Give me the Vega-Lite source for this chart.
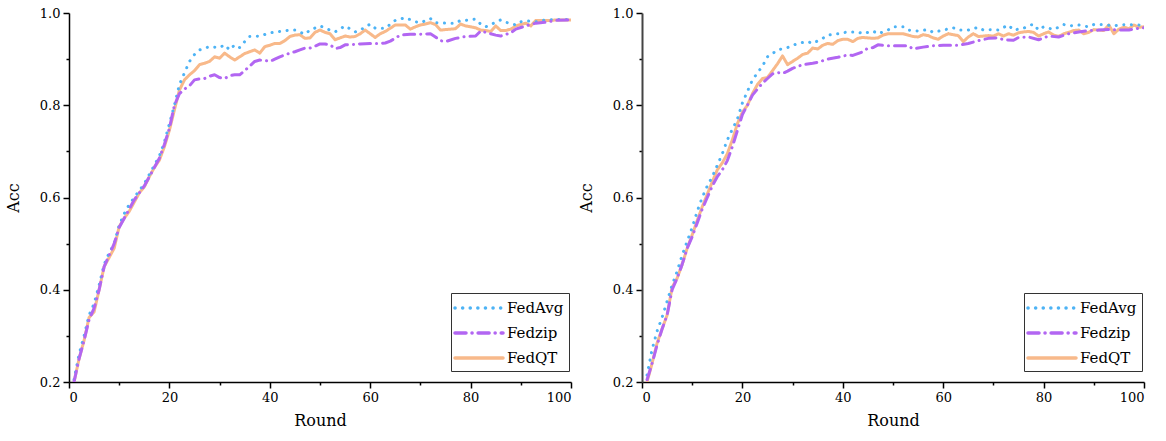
{
  "$schema": "https://vega.github.io/schema/vega-lite/v6.json",
  "background": "white",
  "padding": {"left": 5, "top": 7, "right": 5, "bottom": 5},
  "bounds": "flush",
  "spacing": 71,
  "datasets": {
    "L": [
      {"m":"FedQT","r":1,"a":0.2},{"m":"FedQT","r":2,"a":0.25},{"m":"FedQT","r":3,"a":0.29},{"m":"FedQT","r":4,"a":0.34},{"m":"FedQT","r":5,"a":0.352},{"m":"FedQT","r":6,"a":0.4},{"m":"FedQT","r":7,"a":0.45},{"m":"FedQT","r":8,"a":0.47},{"m":"FedQT","r":9,"a":0.49},{"m":"FedQT","r":10,"a":0.537},
      {"m":"FedQT","r":11,"a":0.555},{"m":"FedQT","r":12,"a":0.57},{"m":"FedQT","r":13,"a":0.59},{"m":"FedQT","r":14,"a":0.61},{"m":"FedQT","r":15,"a":0.623},{"m":"FedQT","r":16,"a":0.645},{"m":"FedQT","r":17,"a":0.665},{"m":"FedQT","r":18,"a":0.681},{"m":"FedQT","r":19,"a":0.71},{"m":"FedQT","r":20,"a":0.746},
      {"m":"FedQT","r":21,"a":0.79},{"m":"FedQT","r":22,"a":0.833},{"m":"FedQT","r":23,"a":0.855},{"m":"FedQT","r":24,"a":0.866},{"m":"FedQT","r":25,"a":0.875},{"m":"FedQT","r":26,"a":0.888},{"m":"FedQT","r":27,"a":0.891},{"m":"FedQT","r":28,"a":0.895},{"m":"FedQT","r":29,"a":0.905},{"m":"FedQT","r":30,"a":0.902},
      {"m":"FedQT","r":31,"a":0.913},{"m":"FedQT","r":32,"a":0.905},{"m":"FedQT","r":33,"a":0.898},{"m":"FedQT","r":34,"a":0.905},{"m":"FedQT","r":35,"a":0.912},{"m":"FedQT","r":36,"a":0.916},{"m":"FedQT","r":37,"a":0.92},{"m":"FedQT","r":38,"a":0.913},{"m":"FedQT","r":39,"a":0.927},{"m":"FedQT","r":40,"a":0.93},
      {"m":"FedQT","r":41,"a":0.934},{"m":"FedQT","r":42,"a":0.934},{"m":"FedQT","r":43,"a":0.94},{"m":"FedQT","r":44,"a":0.949},{"m":"FedQT","r":45,"a":0.952},{"m":"FedQT","r":46,"a":0.953},{"m":"FedQT","r":47,"a":0.945},{"m":"FedQT","r":48,"a":0.946},{"m":"FedQT","r":49,"a":0.958},{"m":"FedQT","r":50,"a":0.963},
      {"m":"FedQT","r":51,"a":0.958},{"m":"FedQT","r":52,"a":0.955},{"m":"FedQT","r":53,"a":0.942},{"m":"FedQT","r":54,"a":0.946},{"m":"FedQT","r":55,"a":0.95},{"m":"FedQT","r":56,"a":0.948},{"m":"FedQT","r":57,"a":0.949},{"m":"FedQT","r":58,"a":0.955},{"m":"FedQT","r":59,"a":0.963},{"m":"FedQT","r":60,"a":0.955},
      {"m":"FedQT","r":61,"a":0.947},{"m":"FedQT","r":62,"a":0.955},{"m":"FedQT","r":63,"a":0.96},{"m":"FedQT","r":64,"a":0.967},{"m":"FedQT","r":65,"a":0.974},{"m":"FedQT","r":66,"a":0.974},{"m":"FedQT","r":67,"a":0.974},{"m":"FedQT","r":68,"a":0.965},{"m":"FedQT","r":69,"a":0.97},{"m":"FedQT","r":70,"a":0.974},
      {"m":"FedQT","r":71,"a":0.976},{"m":"FedQT","r":72,"a":0.979},{"m":"FedQT","r":73,"a":0.975},{"m":"FedQT","r":74,"a":0.963},{"m":"FedQT","r":75,"a":0.964},{"m":"FedQT","r":76,"a":0.965},{"m":"FedQT","r":77,"a":0.966},{"m":"FedQT","r":78,"a":0.976},{"m":"FedQT","r":79,"a":0.972},{"m":"FedQT","r":80,"a":0.97},
      {"m":"FedQT","r":81,"a":0.968},{"m":"FedQT","r":82,"a":0.963},{"m":"FedQT","r":83,"a":0.962},{"m":"FedQT","r":84,"a":0.96},{"m":"FedQT","r":85,"a":0.972},{"m":"FedQT","r":86,"a":0.962},{"m":"FedQT","r":87,"a":0.962},{"m":"FedQT","r":88,"a":0.965},{"m":"FedQT","r":89,"a":0.972},{"m":"FedQT","r":90,"a":0.975},
      {"m":"FedQT","r":91,"a":0.978},{"m":"FedQT","r":92,"a":0.972},{"m":"FedQT","r":93,"a":0.984},{"m":"FedQT","r":94,"a":0.984},{"m":"FedQT","r":95,"a":0.984},{"m":"FedQT","r":96,"a":0.984},{"m":"FedQT","r":97,"a":0.985},{"m":"FedQT","r":98,"a":0.985},{"m":"FedQT","r":99,"a":0.985},{"m":"FedQT","r":100,"a":0.985},

      {"m":"FedAvg","r":1,"a":0.205},{"m":"FedAvg","r":2,"a":0.26},{"m":"FedAvg","r":3,"a":0.3},{"m":"FedAvg","r":4,"a":0.345},{"m":"FedAvg","r":5,"a":0.37},{"m":"FedAvg","r":6,"a":0.41},{"m":"FedAvg","r":7,"a":0.455},{"m":"FedAvg","r":8,"a":0.48},{"m":"FedAvg","r":9,"a":0.5},{"m":"FedAvg","r":10,"a":0.54},
      {"m":"FedAvg","r":11,"a":0.565},{"m":"FedAvg","r":12,"a":0.585},{"m":"FedAvg","r":13,"a":0.6},{"m":"FedAvg","r":14,"a":0.615},{"m":"FedAvg","r":15,"a":0.63},{"m":"FedAvg","r":16,"a":0.65},{"m":"FedAvg","r":17,"a":0.67},{"m":"FedAvg","r":18,"a":0.69},{"m":"FedAvg","r":19,"a":0.72},{"m":"FedAvg","r":20,"a":0.76},
      {"m":"FedAvg","r":21,"a":0.8},{"m":"FedAvg","r":22,"a":0.845},{"m":"FedAvg","r":23,"a":0.87},{"m":"FedAvg","r":24,"a":0.895},{"m":"FedAvg","r":25,"a":0.91},{"m":"FedAvg","r":26,"a":0.92},{"m":"FedAvg","r":28,"a":0.927},{"m":"FedAvg","r":30,"a":0.925},{"m":"FedAvg","r":31,"a":0.931},{"m":"FedAvg","r":32,"a":0.92},
      {"m":"FedAvg","r":33,"a":0.931},{"m":"FedAvg","r":34,"a":0.925},{"m":"FedAvg","r":35,"a":0.938},{"m":"FedAvg","r":36,"a":0.949},{"m":"FedAvg","r":38,"a":0.95},{"m":"FedAvg","r":40,"a":0.957},{"m":"FedAvg","r":42,"a":0.96},{"m":"FedAvg","r":44,"a":0.963},{"m":"FedAvg","r":45,"a":0.963},{"m":"FedAvg","r":47,"a":0.954},
      {"m":"FedAvg","r":48,"a":0.963},{"m":"FedAvg","r":50,"a":0.972},{"m":"FedAvg","r":52,"a":0.963},{"m":"FedAvg","r":53,"a":0.959},{"m":"FedAvg","r":55,"a":0.972},{"m":"FedAvg","r":57,"a":0.959},{"m":"FedAvg","r":58,"a":0.963},{"m":"FedAvg","r":60,"a":0.976},{"m":"FedAvg","r":61,"a":0.967},{"m":"FedAvg","r":63,"a":0.967},
      {"m":"FedAvg","r":65,"a":0.984},{"m":"FedAvg","r":67,"a":0.99},{"m":"FedAvg","r":69,"a":0.981},{"m":"FedAvg","r":70,"a":0.979},{"m":"FedAvg","r":72,"a":0.988},{"m":"FedAvg","r":73,"a":0.979},{"m":"FedAvg","r":75,"a":0.978},{"m":"FedAvg","r":77,"a":0.978},{"m":"FedAvg","r":78,"a":0.984},{"m":"FedAvg","r":79,"a":0.984},
      {"m":"FedAvg","r":81,"a":0.987},{"m":"FedAvg","r":82,"a":0.976},{"m":"FedAvg","r":83,"a":0.97},{"m":"FedAvg","r":85,"a":0.98},{"m":"FedAvg","r":86,"a":0.985},{"m":"FedAvg","r":87,"a":0.98},{"m":"FedAvg","r":89,"a":0.974},{"m":"FedAvg","r":90,"a":0.981},{"m":"FedAvg","r":91,"a":0.983},{"m":"FedAvg","r":93,"a":0.981},
      {"m":"FedAvg","r":95,"a":0.985},{"m":"FedAvg","r":97,"a":0.986},{"m":"FedAvg","r":100,"a":0.986},

      {"m":"Fedzip","r":1,"a":0.2},{"m":"Fedzip","r":2,"a":0.25},{"m":"Fedzip","r":3,"a":0.29},{"m":"Fedzip","r":4,"a":0.335},{"m":"Fedzip","r":5,"a":0.36},{"m":"Fedzip","r":6,"a":0.4},{"m":"Fedzip","r":7,"a":0.45},{"m":"Fedzip","r":8,"a":0.475},{"m":"Fedzip","r":9,"a":0.5},{"m":"Fedzip","r":10,"a":0.535},
      {"m":"Fedzip","r":11,"a":0.555},{"m":"Fedzip","r":12,"a":0.575},{"m":"Fedzip","r":13,"a":0.595},{"m":"Fedzip","r":14,"a":0.61},{"m":"Fedzip","r":15,"a":0.625},{"m":"Fedzip","r":16,"a":0.645},{"m":"Fedzip","r":17,"a":0.665},{"m":"Fedzip","r":18,"a":0.685},{"m":"Fedzip","r":19,"a":0.715},{"m":"Fedzip","r":20,"a":0.75},
      {"m":"Fedzip","r":21,"a":0.8},{"m":"Fedzip","r":22,"a":0.825},{"m":"Fedzip","r":23,"a":0.835},{"m":"Fedzip","r":24,"a":0.842},{"m":"Fedzip","r":25,"a":0.855},{"m":"Fedzip","r":26,"a":0.857},{"m":"Fedzip","r":27,"a":0.858},{"m":"Fedzip","r":28,"a":0.863},{"m":"Fedzip","r":29,"a":0.866},{"m":"Fedzip","r":30,"a":0.86},
      {"m":"Fedzip","r":31,"a":0.858},{"m":"Fedzip","r":32,"a":0.864},{"m":"Fedzip","r":33,"a":0.866},{"m":"Fedzip","r":34,"a":0.866},{"m":"Fedzip","r":35,"a":0.875},{"m":"Fedzip","r":36,"a":0.885},{"m":"Fedzip","r":37,"a":0.895},{"m":"Fedzip","r":38,"a":0.898},{"m":"Fedzip","r":39,"a":0.897},{"m":"Fedzip","r":40,"a":0.895},
      {"m":"Fedzip","r":41,"a":0.9},{"m":"Fedzip","r":42,"a":0.905},{"m":"Fedzip","r":43,"a":0.909},{"m":"Fedzip","r":44,"a":0.913},{"m":"Fedzip","r":45,"a":0.916},{"m":"Fedzip","r":46,"a":0.92},{"m":"Fedzip","r":47,"a":0.924},{"m":"Fedzip","r":48,"a":0.924},{"m":"Fedzip","r":49,"a":0.928},{"m":"Fedzip","r":50,"a":0.933},
      {"m":"Fedzip","r":51,"a":0.933},{"m":"Fedzip","r":52,"a":0.931},{"m":"Fedzip","r":53,"a":0.923},{"m":"Fedzip","r":54,"a":0.925},{"m":"Fedzip","r":55,"a":0.931},{"m":"Fedzip","r":57,"a":0.932},{"m":"Fedzip","r":58,"a":0.933},{"m":"Fedzip","r":60,"a":0.934},{"m":"Fedzip","r":62,"a":0.934},{"m":"Fedzip","r":63,"a":0.935},
      {"m":"Fedzip","r":64,"a":0.939},{"m":"Fedzip","r":66,"a":0.952},{"m":"Fedzip","r":68,"a":0.954},{"m":"Fedzip","r":70,"a":0.954},{"m":"Fedzip","r":72,"a":0.955},{"m":"Fedzip","r":73,"a":0.948},{"m":"Fedzip","r":74,"a":0.94},{"m":"Fedzip","r":75,"a":0.938},{"m":"Fedzip","r":77,"a":0.945},{"m":"Fedzip","r":79,"a":0.949},
      {"m":"Fedzip","r":81,"a":0.95},{"m":"Fedzip","r":82,"a":0.961},{"m":"Fedzip","r":83,"a":0.958},{"m":"Fedzip","r":84,"a":0.955},{"m":"Fedzip","r":85,"a":0.952},{"m":"Fedzip","r":86,"a":0.95},{"m":"Fedzip","r":88,"a":0.957},{"m":"Fedzip","r":89,"a":0.965},{"m":"Fedzip","r":91,"a":0.972},{"m":"Fedzip","r":93,"a":0.978},
      {"m":"Fedzip","r":95,"a":0.98},{"m":"Fedzip","r":97,"a":0.984},{"m":"Fedzip","r":100,"a":0.985}
    ],
    "R": [
      {"m":"FedQT","r":1,"a":0.2},{"m":"FedQT","r":2,"a":0.24},{"m":"FedQT","r":3,"a":0.284},{"m":"FedQT","r":4,"a":0.315},{"m":"FedQT","r":5,"a":0.345},{"m":"FedQT","r":6,"a":0.405},{"m":"FedQT","r":7,"a":0.425},{"m":"FedQT","r":8,"a":0.455},{"m":"FedQT","r":9,"a":0.49},{"m":"FedQT","r":10,"a":0.519},
      {"m":"FedQT","r":11,"a":0.55},{"m":"FedQT","r":12,"a":0.58},{"m":"FedQT","r":13,"a":0.607},{"m":"FedQT","r":14,"a":0.634},{"m":"FedQT","r":15,"a":0.66},{"m":"FedQT","r":16,"a":0.675},{"m":"FedQT","r":17,"a":0.695},{"m":"FedQT","r":18,"a":0.725},{"m":"FedQT","r":19,"a":0.76},{"m":"FedQT","r":20,"a":0.785},
      {"m":"FedQT","r":21,"a":0.8},{"m":"FedQT","r":22,"a":0.825},{"m":"FedQT","r":23,"a":0.845},{"m":"FedQT","r":24,"a":0.858},{"m":"FedQT","r":25,"a":0.86},{"m":"FedQT","r":26,"a":0.875},{"m":"FedQT","r":27,"a":0.89},{"m":"FedQT","r":28,"a":0.907},{"m":"FedQT","r":29,"a":0.888},{"m":"FedQT","r":30,"a":0.895},
      {"m":"FedQT","r":31,"a":0.902},{"m":"FedQT","r":32,"a":0.91},{"m":"FedQT","r":33,"a":0.913},{"m":"FedQT","r":34,"a":0.924},{"m":"FedQT","r":35,"a":0.922},{"m":"FedQT","r":36,"a":0.93},{"m":"FedQT","r":37,"a":0.934},{"m":"FedQT","r":38,"a":0.932},{"m":"FedQT","r":39,"a":0.94},{"m":"FedQT","r":40,"a":0.943},
      {"m":"FedQT","r":41,"a":0.943},{"m":"FedQT","r":42,"a":0.938},{"m":"FedQT","r":43,"a":0.945},{"m":"FedQT","r":44,"a":0.947},{"m":"FedQT","r":45,"a":0.946},{"m":"FedQT","r":46,"a":0.945},{"m":"FedQT","r":47,"a":0.946},{"m":"FedQT","r":48,"a":0.952},{"m":"FedQT","r":49,"a":0.955},{"m":"FedQT","r":50,"a":0.955},
      {"m":"FedQT","r":51,"a":0.955},{"m":"FedQT","r":52,"a":0.955},{"m":"FedQT","r":53,"a":0.952},{"m":"FedQT","r":54,"a":0.949},{"m":"FedQT","r":55,"a":0.948},{"m":"FedQT","r":56,"a":0.953},{"m":"FedQT","r":57,"a":0.951},{"m":"FedQT","r":58,"a":0.946},{"m":"FedQT","r":59,"a":0.943},{"m":"FedQT","r":60,"a":0.95},
      {"m":"FedQT","r":61,"a":0.955},{"m":"FedQT","r":62,"a":0.953},{"m":"FedQT","r":63,"a":0.951},{"m":"FedQT","r":64,"a":0.938},{"m":"FedQT","r":65,"a":0.948},{"m":"FedQT","r":66,"a":0.955},{"m":"FedQT","r":67,"a":0.949},{"m":"FedQT","r":68,"a":0.95},{"m":"FedQT","r":69,"a":0.951},{"m":"FedQT","r":70,"a":0.95},
      {"m":"FedQT","r":71,"a":0.955},{"m":"FedQT","r":72,"a":0.95},{"m":"FedQT","r":73,"a":0.955},{"m":"FedQT","r":74,"a":0.952},{"m":"FedQT","r":75,"a":0.957},{"m":"FedQT","r":76,"a":0.959},{"m":"FedQT","r":77,"a":0.96},{"m":"FedQT","r":78,"a":0.958},{"m":"FedQT","r":79,"a":0.95},{"m":"FedQT","r":80,"a":0.955},
      {"m":"FedQT","r":81,"a":0.959},{"m":"FedQT","r":82,"a":0.952},{"m":"FedQT","r":83,"a":0.949},{"m":"FedQT","r":84,"a":0.955},{"m":"FedQT","r":85,"a":0.958},{"m":"FedQT","r":86,"a":0.962},{"m":"FedQT","r":87,"a":0.963},{"m":"FedQT","r":88,"a":0.955},{"m":"FedQT","r":89,"a":0.958},{"m":"FedQT","r":90,"a":0.964},
      {"m":"FedQT","r":91,"a":0.963},{"m":"FedQT","r":92,"a":0.962},{"m":"FedQT","r":93,"a":0.974},{"m":"FedQT","r":94,"a":0.955},{"m":"FedQT","r":95,"a":0.965},{"m":"FedQT","r":96,"a":0.969},{"m":"FedQT","r":97,"a":0.966},{"m":"FedQT","r":98,"a":0.974},{"m":"FedQT","r":99,"a":0.969},{"m":"FedQT","r":100,"a":0.97},

      {"m":"FedAvg","r":1,"a":0.215},{"m":"FedAvg","r":2,"a":0.27},{"m":"FedAvg","r":3,"a":0.31},{"m":"FedAvg","r":4,"a":0.34},{"m":"FedAvg","r":5,"a":0.375},{"m":"FedAvg","r":6,"a":0.41},{"m":"FedAvg","r":7,"a":0.44},{"m":"FedAvg","r":8,"a":0.475},{"m":"FedAvg","r":9,"a":0.505},{"m":"FedAvg","r":10,"a":0.535},
      {"m":"FedAvg","r":11,"a":0.57},{"m":"FedAvg","r":12,"a":0.6},{"m":"FedAvg","r":13,"a":0.625},{"m":"FedAvg","r":14,"a":0.645},{"m":"FedAvg","r":15,"a":0.67},{"m":"FedAvg","r":16,"a":0.695},{"m":"FedAvg","r":17,"a":0.725},{"m":"FedAvg","r":18,"a":0.748},{"m":"FedAvg","r":19,"a":0.77},{"m":"FedAvg","r":20,"a":0.805},
      {"m":"FedAvg","r":21,"a":0.83},{"m":"FedAvg","r":22,"a":0.855},{"m":"FedAvg","r":23,"a":0.87},{"m":"FedAvg","r":24,"a":0.885},{"m":"FedAvg","r":25,"a":0.905},{"m":"FedAvg","r":26,"a":0.912},{"m":"FedAvg","r":27,"a":0.92},{"m":"FedAvg","r":29,"a":0.925},{"m":"FedAvg","r":31,"a":0.934},{"m":"FedAvg","r":33,"a":0.938},
      {"m":"FedAvg","r":34,"a":0.934},{"m":"FedAvg","r":36,"a":0.945},{"m":"FedAvg","r":37,"a":0.952},{"m":"FedAvg","r":39,"a":0.955},{"m":"FedAvg","r":41,"a":0.959},{"m":"FedAvg","r":43,"a":0.959},{"m":"FedAvg","r":44,"a":0.955},{"m":"FedAvg","r":46,"a":0.961},{"m":"FedAvg","r":47,"a":0.955},{"m":"FedAvg","r":49,"a":0.963},
      {"m":"FedAvg","r":50,"a":0.97},{"m":"FedAvg","r":52,"a":0.97},{"m":"FedAvg","r":53,"a":0.963},{"m":"FedAvg","r":55,"a":0.961},{"m":"FedAvg","r":57,"a":0.964},{"m":"FedAvg","r":58,"a":0.958},{"m":"FedAvg","r":60,"a":0.963},{"m":"FedAvg","r":62,"a":0.968},{"m":"FedAvg","r":63,"a":0.963},{"m":"FedAvg","r":65,"a":0.963},
      {"m":"FedAvg","r":67,"a":0.969},{"m":"FedAvg","r":68,"a":0.963},{"m":"FedAvg","r":70,"a":0.964},{"m":"FedAvg","r":71,"a":0.963},{"m":"FedAvg","r":73,"a":0.974},{"m":"FedAvg","r":74,"a":0.963},{"m":"FedAvg","r":76,"a":0.967},{"m":"FedAvg","r":77,"a":0.972},{"m":"FedAvg","r":78,"a":0.976},{"m":"FedAvg","r":79,"a":0.963},
      {"m":"FedAvg","r":80,"a":0.97},{"m":"FedAvg","r":82,"a":0.964},{"m":"FedAvg","r":84,"a":0.975},{"m":"FedAvg","r":85,"a":0.972},{"m":"FedAvg","r":87,"a":0.974},{"m":"FedAvg","r":89,"a":0.97},{"m":"FedAvg","r":90,"a":0.975},{"m":"FedAvg","r":92,"a":0.975},{"m":"FedAvg","r":94,"a":0.972},{"m":"FedAvg","r":95,"a":0.974},
      {"m":"FedAvg","r":97,"a":0.975},{"m":"FedAvg","r":99,"a":0.974},{"m":"FedAvg","r":100,"a":0.974},

      {"m":"Fedzip","r":1,"a":0.205},{"m":"Fedzip","r":2,"a":0.24},{"m":"Fedzip","r":3,"a":0.28},{"m":"Fedzip","r":4,"a":0.315},{"m":"Fedzip","r":5,"a":0.345},{"m":"Fedzip","r":6,"a":0.4},{"m":"Fedzip","r":7,"a":0.425},{"m":"Fedzip","r":8,"a":0.455},{"m":"Fedzip","r":9,"a":0.49},{"m":"Fedzip","r":10,"a":0.515},
      {"m":"Fedzip","r":11,"a":0.545},{"m":"Fedzip","r":12,"a":0.575},{"m":"Fedzip","r":13,"a":0.6},{"m":"Fedzip","r":14,"a":0.625},{"m":"Fedzip","r":15,"a":0.645},{"m":"Fedzip","r":16,"a":0.66},{"m":"Fedzip","r":17,"a":0.68},{"m":"Fedzip","r":18,"a":0.71},{"m":"Fedzip","r":19,"a":0.745},{"m":"Fedzip","r":20,"a":0.78},
      {"m":"Fedzip","r":21,"a":0.8},{"m":"Fedzip","r":22,"a":0.822},{"m":"Fedzip","r":23,"a":0.835},{"m":"Fedzip","r":24,"a":0.848},{"m":"Fedzip","r":25,"a":0.858},{"m":"Fedzip","r":26,"a":0.868},{"m":"Fedzip","r":27,"a":0.871},{"m":"Fedzip","r":28,"a":0.869},{"m":"Fedzip","r":29,"a":0.874},{"m":"Fedzip","r":30,"a":0.88},
      {"m":"Fedzip","r":32,"a":0.888},{"m":"Fedzip","r":34,"a":0.891},{"m":"Fedzip","r":35,"a":0.893},{"m":"Fedzip","r":37,"a":0.9},{"m":"Fedzip","r":39,"a":0.904},{"m":"Fedzip","r":41,"a":0.909},{"m":"Fedzip","r":42,"a":0.908},{"m":"Fedzip","r":44,"a":0.916},{"m":"Fedzip","r":45,"a":0.924},{"m":"Fedzip","r":46,"a":0.925},
      {"m":"Fedzip","r":47,"a":0.931},{"m":"Fedzip","r":49,"a":0.929},{"m":"Fedzip","r":51,"a":0.929},{"m":"Fedzip","r":53,"a":0.929},{"m":"Fedzip","r":54,"a":0.922},{"m":"Fedzip","r":56,"a":0.926},{"m":"Fedzip","r":58,"a":0.929},{"m":"Fedzip","r":60,"a":0.93},{"m":"Fedzip","r":63,"a":0.93},{"m":"Fedzip","r":65,"a":0.934},
      {"m":"Fedzip","r":67,"a":0.94},{"m":"Fedzip","r":69,"a":0.945},{"m":"Fedzip","r":71,"a":0.946},{"m":"Fedzip","r":72,"a":0.942},{"m":"Fedzip","r":74,"a":0.941},{"m":"Fedzip","r":75,"a":0.947},{"m":"Fedzip","r":77,"a":0.948},{"m":"Fedzip","r":79,"a":0.942},{"m":"Fedzip","r":81,"a":0.95},{"m":"Fedzip","r":83,"a":0.948},
      {"m":"Fedzip","r":85,"a":0.955},{"m":"Fedzip","r":87,"a":0.959},{"m":"Fedzip","r":89,"a":0.962},{"m":"Fedzip","r":91,"a":0.963},{"m":"Fedzip","r":93,"a":0.964},{"m":"Fedzip","r":95,"a":0.963},{"m":"Fedzip","r":97,"a":0.963},{"m":"Fedzip","r":99,"a":0.967},{"m":"Fedzip","r":100,"a":0.968}
    ]
  },
  "config": {
    "view": {"stroke": null},
    "font": "DejaVu Serif",
    "axis": {
      "grid": false,
      "domainColor": "black",
      "domainWidth": 1.5,
      "tickColor": "black",
      "tickWidth": 1.5,
      "labelFont": "DejaVu Serif",
      "labelFontSize": 13,
      "labelColor": "black",
      "titleFont": "DejaVu Serif",
      "titleFontSize": 16,
      "titleFontWeight": "normal",
      "titleColor": "black",
      "labelPadding": 3
    },
    "legend": {
      "labelFont": "DejaVu Serif",
      "labelFontSize": 15,
      "labelColor": "black",
      "strokeColor": "#333",
      "padding": 5,
      "symbolType": "M-3,0H3",
      "symbolSize": 256,
      "symbolStrokeWidth": 3.5,
      "rowPadding": 7,
      "labelOffset": 18,
      "symbolOffset": 13
    }
  },
  "resolve": {
    "scale": {"color": "independent", "strokeDash": "independent"},
    "legend": {"color": "independent", "strokeDash": "independent"}
  },
  "hconcat": [
    {
      "width": 502, "height": 369,
      "data": {"name": "L"},
      "mark": {"type": "line", "strokeWidth": 3, "strokeCap": "round", "strokeJoin": "round", "clip": true},
      "encoding": {
        "x": {"field": "r", "type": "quantitative", "title": "Round",
              "scale": {"domain": [0, 100], "nice": false},
              "axis": {"values": [0,10,20,30,40,50,60,70,80,90,100],
                       "labelExpr": "datum.value % 20 === 0 ? datum.label : ''",
                       "tickSize": {"condition": {"test": "datum.value % 20 === 0", "value": 6}, "value": 3},
                       "titlePadding": 8}},
        "y": {"field": "a", "type": "quantitative", "title": "Acc",
              "scale": {"domain": [0.2, 1.0], "nice": false, "zero": false},
              "axis": {"values": [0.2,0.3,0.4,0.5,0.6,0.7,0.8,0.9,1.0],
                       "labelExpr": "round(datum.value*10) % 2 === 0 ? format(datum.value, '.1f') : ''",
                       "tickSize": {"condition": {"test": "round(datum.value*10) % 2 === 0", "value": 6}, "value": 3},
                       "titlePadding": 18}},
        "color": {"field": "m", "type": "nominal", "title": null,
                  "scale": {"domain": ["FedAvg", "Fedzip", "FedQT"], "range": ["#4db3f5", "#b266f2", "#f8b98a"]},
                  "legend": {"orient": "none", "legendX": 382, "legendY": 280,
                             "encode": {"symbols": {"update": {"strokeCap": {"value": "round"}}}}}},
        "strokeDash": {"field": "m", "type": "nominal", "title": null,
                  "scale": {"domain": ["FedAvg", "Fedzip", "FedQT"], "range": [[0.1, 7.5], [11, 6, 0.1, 6], [1, 0]]},
                  "legend": {"orient": "none", "legendX": 382, "legendY": 280,
                             "encode": {"symbols": {"update": {"strokeCap": {"value": "round"}}}}}},
        "order": {"field": "r", "type": "quantitative"}
      }
    },
    {
      "width": 502, "height": 369,
      "data": {"name": "R"},
      "mark": {"type": "line", "strokeWidth": 3, "strokeCap": "round", "strokeJoin": "round", "clip": true},
      "encoding": {
        "x": {"field": "r", "type": "quantitative", "title": "Round",
              "scale": {"domain": [0, 100], "nice": false},
              "axis": {"values": [0,10,20,30,40,50,60,70,80,90,100],
                       "labelExpr": "datum.value % 20 === 0 ? datum.label : ''",
                       "tickSize": {"condition": {"test": "datum.value % 20 === 0", "value": 6}, "value": 3},
                       "titlePadding": 8}},
        "y": {"field": "a", "type": "quantitative", "title": "Acc",
              "scale": {"domain": [0.2, 1.0], "nice": false, "zero": false},
              "axis": {"values": [0.2,0.3,0.4,0.5,0.6,0.7,0.8,0.9,1.0],
                       "labelExpr": "round(datum.value*10) % 2 === 0 ? format(datum.value, '.1f') : ''",
                       "tickSize": {"condition": {"test": "round(datum.value*10) % 2 === 0", "value": 6}, "value": 3},
                       "domainColor": "#444", "domainWidth": 2,
                       "titlePadding": 18}},
        "color": {"field": "m", "type": "nominal", "title": null,
                  "scale": {"domain": ["FedAvg", "Fedzip", "FedQT"], "range": ["#4db3f5", "#b266f2", "#f8b98a"]},
                  "legend": {"orient": "none", "legendX": 382, "legendY": 280,
                             "encode": {"symbols": {"update": {"strokeCap": {"value": "round"}}}}}},
        "strokeDash": {"field": "m", "type": "nominal", "title": null,
                  "scale": {"domain": ["FedAvg", "Fedzip", "FedQT"], "range": [[0.1, 7.5], [11, 6, 0.1, 6], [1, 0]]},
                  "legend": {"orient": "none", "legendX": 382, "legendY": 280,
                             "encode": {"symbols": {"update": {"strokeCap": {"value": "round"}}}}}},
        "order": {"field": "r", "type": "quantitative"}
      }
    }
  ]
}
